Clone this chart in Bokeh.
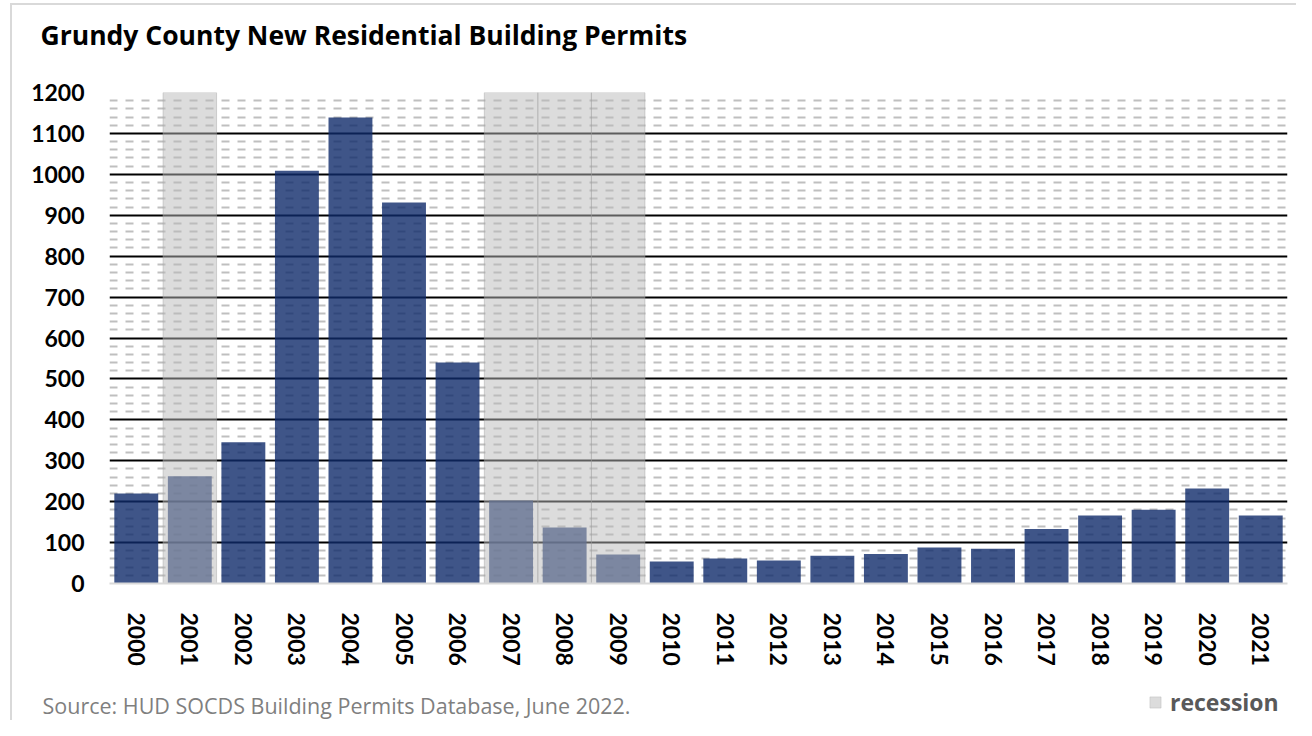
from bokeh.plotting import figure
from bokeh.layouts import column
from bokeh.models import (FactorRange, Range1d, Label, Legend, LegendItem,
                          FixedTicker)
from bokeh.embed import file_html
from bokeh.resources import INLINE

years = [str(y) for y in range(2000, 2022)]
permits = [220, 262, 345, 1009, 1139, 931, 540, 203, 137, 71, 54, 61, 56, 68,
           72, 88, 85, 133, 166, 180, 232, 166]
recession_years = ["2001", "2007", "2008", "2009"]
recession_top = [1200, 1200, 1200, 1200]
y_ticks = list(range(0, 1300, 100))
minor_ticks = [v for v in range(0, 1201, 20) if v % 100 != 0]

title_text = "Grundy County New Residential Building Permits"
source_text = "Source: HUD SOCDS Building Permits Database, June 2022."
legend_text = "recession"

FONT = "Lato"
TFONT = "Open Sans"
W = 1296


def strip(h):
    f = figure(width=W, height=h, x_range=Range1d(0, W),
               y_range=Range1d(0, h), output_backend="svg",
               toolbar_location=None, x_axis_type=None, y_axis_type=None,
               min_border=0, min_border_left=0, min_border_right=0,
               min_border_top=0, min_border_bottom=0)
    f.frame_align = False
    f.outline_line_color = None
    f.background_fill_alpha = 0
    f.border_fill_alpha = 0
    f.grid.visible = False
    return f


# ---- top strip: title
t = strip(60)
t.add_layout(Label(x=40, y=26, text=title_text, text_font=TFONT,
                   text_font_style="bold", text_font_size="26.5px",
                   text_color="black", text_baseline="alphabetic"))

# ---- main chart
p = figure(width=W, height=620, x_range=FactorRange(*years),
           y_range=Range1d(0, 1200), output_backend="svg",
           toolbar_location=None, min_border_left=109, min_border_right=9,
           min_border_top=32, min_border_bottom=97)
p.frame_align = False
p.outline_line_color = None
p.background_fill_color = "white"
p.border_fill_alpha = 0

p.vbar(x=years, top=permits, width=0.82, fill_color="#0f2a6a",
       fill_alpha=0.8, line_color=None)
rec = p.vbar(x=recession_years, top=recession_top, width=1.0,
             fill_color="#bababa", fill_alpha=0.5, line_color="#9a9a9a",
             line_alpha=0.4, line_width=1)

p.xgrid.grid_line_color = None
p.ygrid.ticker = FixedTicker(ticks=y_ticks, minor_ticks=minor_ticks)
p.ygrid.grid_line_color = "black"
p.ygrid.grid_line_width = 2
p.ygrid.minor_grid_line_color = "#bfbfbf"
p.ygrid.minor_grid_line_width = 2
p.ygrid.minor_grid_line_dash = "8 8"
p.ygrid.level = "underlay"

p.yaxis.ticker = FixedTicker(ticks=y_ticks)
p.yaxis.axis_line_color = None
p.yaxis.major_tick_line_color = None
p.yaxis.minor_tick_line_color = None
p.yaxis.major_label_standoff = 19
p.yaxis.major_label_text_font = FONT
p.yaxis.major_label_text_font_style = "bold"
p.yaxis.major_label_text_font_size = "23px"
p.yaxis.major_label_text_color = "black"

p.xaxis.axis_line_color = "#d9d9d9"
p.xaxis.axis_line_width = 2
p.xaxis.major_tick_line_color = None
p.xaxis.minor_tick_line_color = None
p.xaxis.major_label_orientation = "vertical"
p.xaxis.major_label_standoff = 23
p.xaxis.major_label_text_font = FONT
p.xaxis.major_label_text_font_style = "bold"
p.xaxis.major_label_text_font_size = "23px"
p.xaxis.major_label_text_color = "black"

# ---- bottom strip: source note and legend
s = strip(40)
s.add_layout(Label(x=42, y=15, text=source_text, text_font=TFONT,
                   text_font_size="21.5px", text_color="#7f7f7f",
                   text_baseline="alphabetic"))
# zero-size stand-in glyph, only used to draw the legend swatch
swatch = s.vbar(x=[0], top=[0], width=0, fill_color="#bababa",
                fill_alpha=0.5, line_color="#9a9a9a", line_alpha=0.25)
legend = Legend(items=[LegendItem(label=legend_text, renderers=[swatch])],
                location=(1148, 2), orientation="horizontal",
                glyph_width=14, glyph_height=14, label_text_font=TFONT,
                label_text_font_style="bold", label_text_font_size="23px",
                label_text_color="#595959", background_fill_alpha=0,
                border_line_color=None, padding=0, margin=0,
                label_standoff=8)
s.add_layout(legend, "center")

bg = ("linear-gradient(#d9d9d9, #d9d9d9) 10px 3px / 2px 2000px no-repeat, "
      "linear-gradient(#d9d9d9, #d9d9d9) 10px 3px / 2000px 2px no-repeat, "
      "white")
layout = column(t, p, s, styles={"background": bg})

open("out.html", "w").write(file_html(layout, INLINE))
